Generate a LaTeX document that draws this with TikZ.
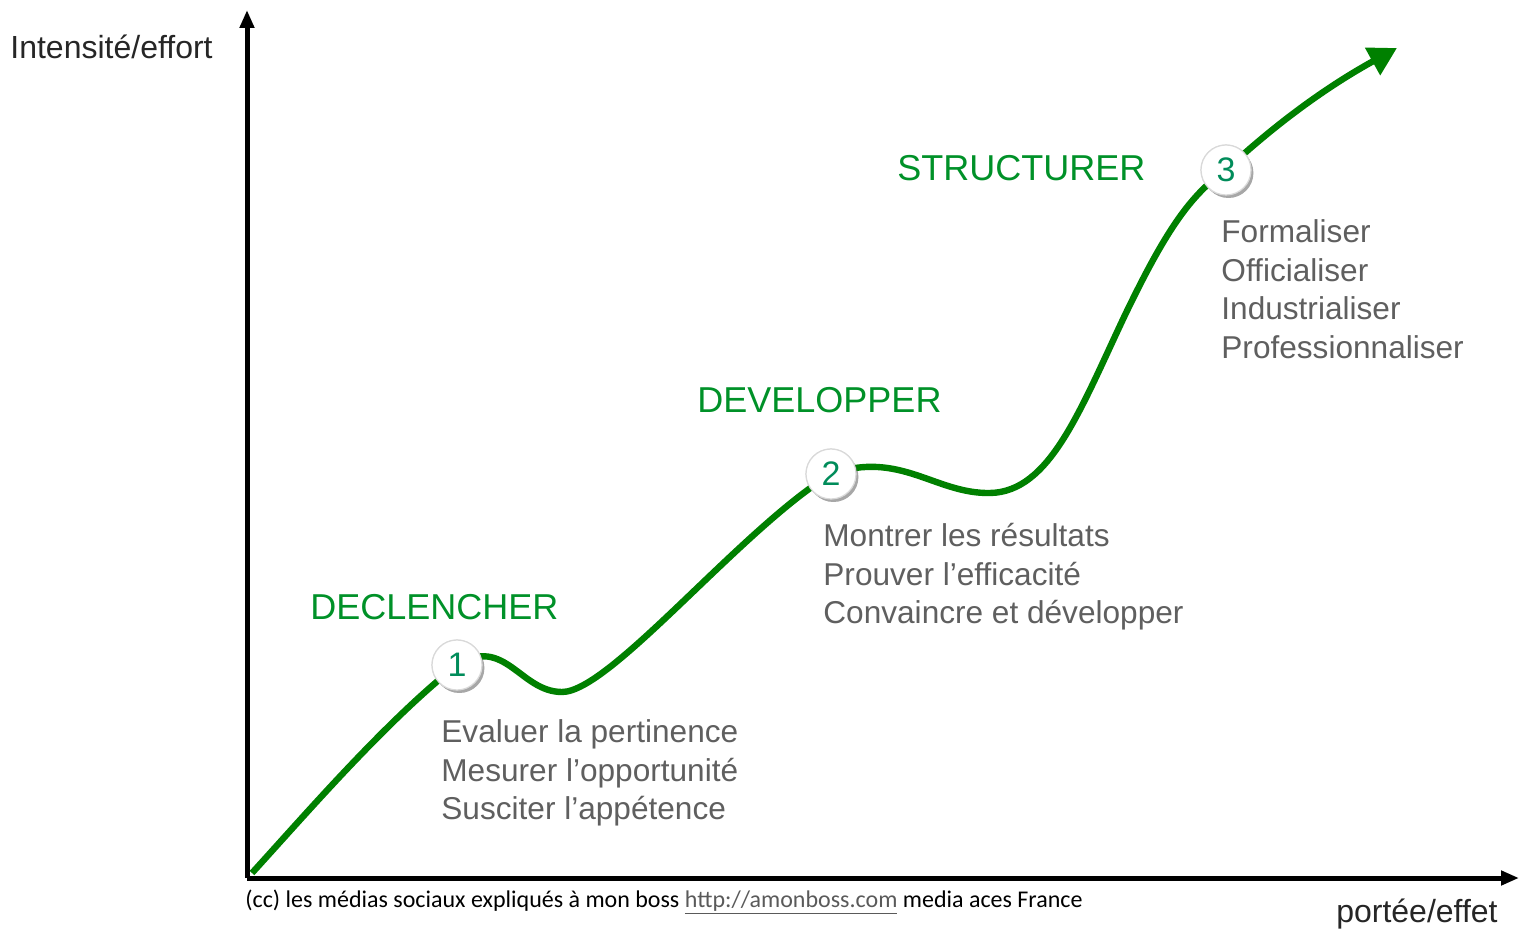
\documentclass[tikz,border=0pt]{standalone}
\usepackage{fontspec}
\setmainfont{Liberation Sans}
\newfontfamily\footfont{Carlito}
\usetikzlibrary{arrows.meta,shadows}
\definecolor{curvegreen}{RGB}{0,128,0}
\definecolor{headgreen}{RGB}{0,145,40}
\definecolor{textgray}{RGB}{95,95,95}
\definecolor{numgreen}{RGB}{0,140,90}
\definecolor{urlgray}{RGB}{90,90,90}
\tikzset{
  axisline/.style={line width=2.5pt,-{Triangle[length=9pt,width=7pt]}},
  curveline/.style={curvegreen,line width=3.2pt},
  stepcircle/.style={circle,draw=black!15,line width=0.6pt,fill=white,minimum size=25pt,inner sep=0pt,
    drop shadow={shadow xshift=1.2pt,shadow yshift=-1.5pt,opacity=0.35,fill=black!60},
    text=numgreen,font=\fontsize{17}{17}\selectfont},
  heading/.style={anchor=base west,inner sep=0pt,text=headgreen,font=\fontsize{18}{18}\selectfont},
  item/.style={anchor=base west,inner sep=0pt,text=textgray,font=\fontsize{15.8}{16}\selectfont},
  axislabel/.style={inner sep=0pt,text=black!85,font=\fontsize{16}{16}\selectfont},
}
\begin{document}
\begin{tikzpicture}[x=0.5pt,y=-0.5pt]
\useasboundingbox (0,0) rectangle (1519,929);
% axes
\coordinate (O) at (247,878);
\coordinate (ytop) at (247,10);
\coordinate (xend) at (1519,878);
\draw[axisline] (O) -- (ytop);
\draw[axisline] (O) -- (xend);
% curve points
\coordinate (s) at (252,873);
\coordinate (end) at (1397,48);
\node[stepcircle] (n1) at (457,665) {};
\node[stepcircle] (n2) at (831,474) {};
\node[stepcircle] (n3) at (1226,170) {};
\draw[curveline] (s) .. controls (305,815) and (385,722) .. (n1.center)
  .. controls (505,635) and (520,692) .. (562,692)
  .. controls (610,692) and (740,530) .. (n2.center)
  .. controls (900,450) and (935,494) .. (990,493)
  .. controls (1050,492) and (1080,410) .. (1125,315)
  .. controls (1165,232) and (1190,195) .. (n3.center);
\draw[curveline,-{Triangle[length=14pt,width=15pt]}] (n3.center) .. controls (1280,120) and (1330,85) .. (end);
% circles on top
\node[stepcircle] (c1) at (n1) {1};
\node[stepcircle] (c2) at (n2) {2};
\node[stepcircle] (c3) at (n3) {3};
% headings
\node[heading] (h1) at (310,619) {DECLENCHER};
\node[heading] (h2) at (697,413) {DEVELOPPER};
\node[heading] (h3) at (897,181) {STRUCTURER};
% items
\node[item] (a1) at (441,742) {Evaluer la pertinence};
\node[item] (a2) at (441,781) {Mesurer l’opportunité};
\node[item] (a3) at (441,819) {Susciter l’appétence};
\node[item] (b1) at (823,547) {Montrer les résultats};
\node[item] (b2) at (823,586) {Prouver l’efficacité};
\node[item] (b3) at (823,624) {Convaincre et développer};
\node[item] (d1) at (1221,243) {Formaliser};
\node[item] (d2) at (1221,282) {Officialiser};
\node[item] (d3) at (1221,320) {Industrialiser};
\node[item] (d4) at (1221,359) {Professionnaliser};
% axis labels
\node[axislabel,anchor=base west] (yl) at (10,59) {Intensité/effort};
\node[axislabel,anchor=base east] (xl) at (1498,922) {portée/effet};
% footer
\node[anchor=base west,inner sep=0pt,font=\footfont\fontsize{12}{12}\selectfont] (foot) at (245,907)
  {(cc) les médias sociaux expliqués à mon boss \textcolor{urlgray}{\underline{http://amonboss.com}} media aces France};
\end{tikzpicture}
\end{document}
